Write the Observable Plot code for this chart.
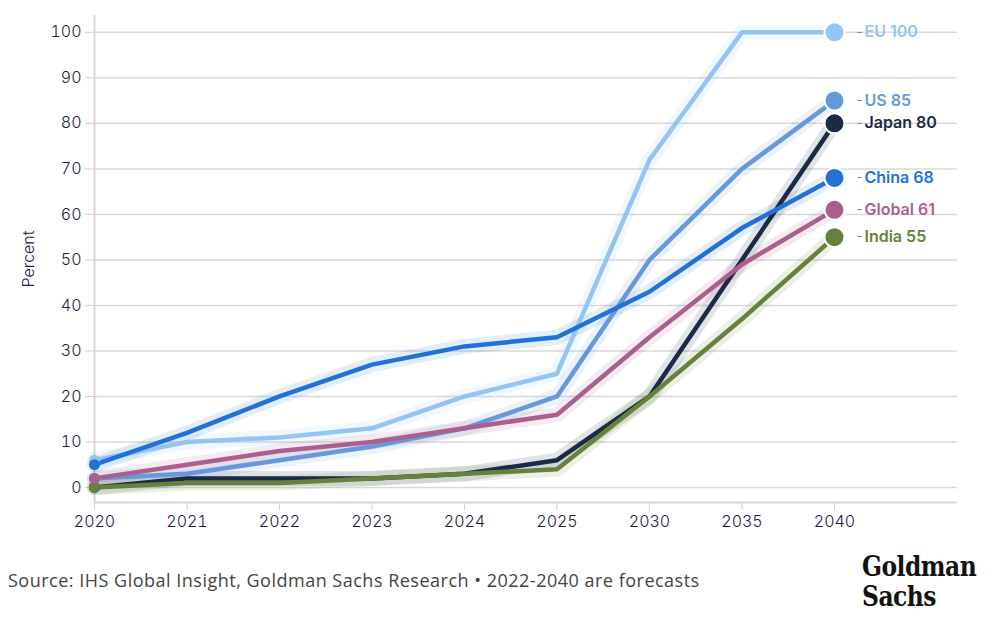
<!DOCTYPE html>
<html><head><meta charset="utf-8">
<script src="https://cdn.jsdelivr.net/npm/d3@7"></script>
<script src="https://cdn.jsdelivr.net/npm/@observablehq/plot@0.6"></script>
<style>
body{margin:0;background:#fff;font-family:Inter,"Noto Sans",sans-serif;}
#wrap{position:relative;width:994px;height:624px;}
#caption{position:absolute;left:8px;top:568px;font-size:18px;letter-spacing:0.5px;color:#444;font-weight:400;font-family:"Open Sans",Inter,sans-serif;white-space:nowrap;}
#logo{position:absolute;left:862px;top:552px;font-family:"DejaVu Serif Condensed","Liberation Serif",serif;font-weight:bold;font-size:26px;line-height:27px;color:#111;letter-spacing:-0.5px;transform-origin:0 0;transform:scale(1.0,1.1);}
</style></head>
<body><div id="wrap"><div id="chart"></div>
<div id="caption">Source: IHS Global Insight, Goldman Sachs Research • 2022-2040 are forecasts</div>
<div id="logo">Goldman<br>Sachs</div></div>
<script>
const years = ["2020","2021","2022","2023","2024","2025","2030","2035","2040"];
const seriesNames = ["EU","US","Japan","India","Global","China"];
const colors = ["#93c4f4","#6699db","#1b2b45","#66813b","#aa5f8d","#2271d6"];
const EU     = [6,10,11,13,20,25,72,100,100];
const US     = [2,3,6,9,13,20,50,70,85];
const Japan  = [0,2,2,2,3,6,20,50,80];
const India  = [0,1,1,2,3,4,20,37,55];
const Global = [2,5,8,10,13,16,33,49,61];
const China  = [5,12,20,27,31,33,43,57,68];
const yTicks = [0,10,20,30,40,50,60,70,80,90,100];

const valuesBy = {EU, US, Japan, India, Global, China};
const colorOf = Object.fromEntries(seriesNames.map((s,i)=>[s,colors[i]]));
const rows = [];
for (const s of seriesNames) valuesBy[s].forEach((v,i)=>rows.push({series:s, i, year:years[i], value:v}));
const firsts = rows.filter(d=>d.i===0);
const lasts = rows.filter(d=>d.i===years.length-1);

const chart = Plot.plot({
  width: 994, height: 545,
  marginLeft: 94, marginRight: 37, marginTop: 15, marginBottom: 43,
  style:{fontFamily:"Inter, sans-serif", fontSize:"15px", color:"#1c1c3a", background:"#fff"},
  x:{type:"linear", domain:[0,9.33], label:null},
  y:{domain:[-3.3,103.7], label:"Percent"},
  marks:[
    Plot.gridY(yTicks, {stroke:"#d9d9d9", strokeOpacity:1, strokeWidth:1.5}),
    Plot.axisY({ticks:yTicks, tickSize:9, tickPadding:4, stroke:"#d0d0d0", fill:"#1c1c3a", fontSize:16, fontWeight:300, label:"Percent", labelAnchor:"center", labelArrow:"none", labelOffset:72}),
    Plot.axisX({ticks:d3.range(years.length), tickFormat:i=>years[i], tickSize:8, tickPadding:5, stroke:"#d0d0d0", fill:"#1c1c3a", fontSize:16, fontWeight:300, label:null}),
    Plot.ruleX([0], {stroke:"#d6d6d6", strokeWidth:2}),
    Plot.ruleY([-3.3], {stroke:"#d6d6d6", strokeWidth:2}),
    Plot.line(rows, {x:"i", y:"value", z:"series", stroke:d=>colorOf[d.series], strokeWidth:15, strokeOpacity:0.13}),
    Plot.line(rows, {x:"i", y:"value", z:"series", stroke:d=>colorOf[d.series], strokeWidth:4.5, strokeLinejoin:"round"}),
    Plot.dot(firsts, {x:"i", y:"value", r:5.5, fill:d=>colorOf[d.series]}),
    Plot.dot(lasts, {x:"i", y:"value", r:10, fill:d=>colorOf[d.series], stroke:"#fff", strokeWidth:2}),
    Plot.text(lasts, {x:"i", y:"value", text:()=>"-", dx:22, fill:"#888", fontSize:13, textAnchor:"start"}),
    Plot.text(lasts, {x:"i", y:"value", text:d=>`${d.series} ${d.value}`, dx:30, fill:d=>colorOf[d.series], fontSize:16, fontWeight:600, textAnchor:"start"})
  ]
});
document.getElementById("chart").appendChild(chart);
</script></body></html>
